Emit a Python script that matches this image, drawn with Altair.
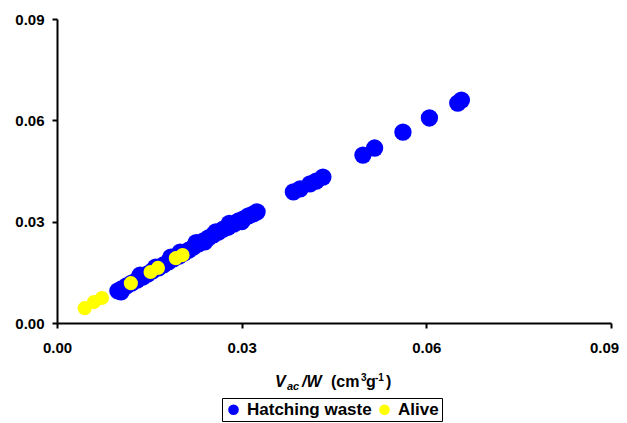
import altair as alt
import pandas as pd

# Hatching waste series
hw_x = [0.0099, 0.0104, 0.0105, 0.0113, 0.0121, 0.0130, 0.0139, 0.0147, 0.0155, 0.0160,
        0.0165, 0.0173, 0.0181, 0.0189, 0.0198, 0.0200, 0.0206, 0.0214, 0.0222, 0.0230,
        0.0238, 0.0240, 0.0246, 0.0254, 0.0262, 0.0270, 0.0278, 0.0280, 0.0287, 0.0295,
        0.0300, 0.0303, 0.0311, 0.0319, 0.0325, 0.0135, 0.0185, 0.0226, 0.0258,
        0.0384, 0.0395, 0.0411, 0.0421, 0.0432, 0.0497, 0.0516, 0.0562, 0.0605, 0.0651, 0.0657]
hw_y = [0.0095, 0.0092, 0.0101, 0.0110, 0.0118, 0.0127, 0.0136, 0.0145, 0.0154, 0.0165,
        0.0163, 0.0172, 0.0181, 0.0190, 0.0198, 0.0210, 0.0207, 0.0216, 0.0225, 0.0234,
        0.0243, 0.0240, 0.0252, 0.0261, 0.0269, 0.0278, 0.0284, 0.0295, 0.0293, 0.0302,
        0.0300, 0.0308, 0.0317, 0.0323, 0.0329, 0.0142, 0.0195, 0.0238, 0.0270,
        0.0388, 0.0397, 0.0412, 0.0420, 0.0432, 0.0497, 0.0518, 0.0565, 0.0607, 0.0651, 0.0660]

# Alive series
alive_x = [0.0045, 0.0060, 0.0073, 0.0120, 0.0152, 0.0164, 0.0193, 0.0204]
alive_y = [0.0044, 0.0062, 0.0074, 0.0118, 0.0151, 0.0163, 0.0192, 0.0201]

series_names = ["Hatching waste", "Alive"]
series_colors = ["#0000FF", "#FFFF00"]
ticks = [0.0, 0.03, 0.06, 0.09]

FONT = "Liberation Sans"

df_hw = pd.DataFrame({"x": hw_x, "y": hw_y, "series": series_names[0]})
df_al = pd.DataFrame({"x": alive_x, "y": alive_y, "series": series_names[1]})

xaxis = alt.Axis(values=ticks, format=".2f", title=None, grid=False, domainColor="black",
                 domainWidth=2, tickColor="black", tickWidth=2, tickSize=5,
                 labelFont=FONT, labelFontSize=15, labelFontWeight="bold", labelColor="black",
                 labelPadding=12, labelFlush=False, labelOverlap=False,
                 labelOffset={"condition": {"test": "datum.value >= 0.089", "value": -7},
                              "value": 0})
yaxis = alt.Axis(values=ticks, format=".2f", title=None, grid=False, domainColor="black",
                 domainWidth=2, tickColor="black", tickWidth=2, tickSize=5,
                 labelFont=FONT, labelFontSize=15, labelFontWeight="bold", labelColor="black",
                 labelPadding=8, labelFlush=False, labelOverlap=False)

xs = alt.Scale(domain=[0, 0.09], nice=False, zero=False)
ys = alt.Scale(domain=[0, 0.09], nice=False, zero=False)
cs = alt.Scale(domain=series_names, range=series_colors)

legend = alt.Legend(orient="none", legendX=165, legendY=379, direction="horizontal",
                    title=None, strokeColor="black", fillColor="white", padding=3,
                    symbolType="circle", symbolSize=113, symbolStrokeWidth=0,
                    symbolOpacity=1, labelFont=FONT, labelFontSize=17,
                    labelFontWeight="bold", labelColor="black", labelOffset=5,
                    columnPadding=4)


def layer_points(df, size):
    return alt.Chart(df).mark_point(filled=True, opacity=1, shape="circle", size=size,
                                    strokeWidth=0).encode(
        x=alt.X("x:Q", scale=xs, axis=xaxis),
        y=alt.Y("y:Q", scale=ys, axis=yaxis),
        color=alt.Color("series:N", scale=cs, legend=legend),
    )


def piece(text, x, y, size, italic):
    return alt.Chart(alt.Data(values=[{}])).mark_text(
        text=text, align="left", baseline="alphabetic", font=FONT, fontSize=size,
        fontWeight="bold", fontStyle="italic" if italic else "normal", color="black"
    ).encode(x=alt.value(x), y=alt.value(y))


title_layers = [
    piece("V", 218, 368, 16, True),
    piece("ac", 230, 371, 11, True),
    piece("/W", 245, 368, 16, True),
    piece("(cm", 274, 368, 16, False),
    piece("3", 304, 362, 10, False),
    piece("g", 309, 368, 16, False),
    piece("-1", 318, 362, 10, False),
    piece(")", 329, 368, 16, False),
]

chart = alt.layer(layer_points(df_hw, 300), layer_points(df_al, 200), *title_layers).properties(
    width=554, height=304,
    autosize=alt.AutoSizeParams(type="none"),
    padding={"left": 49, "top": 11, "right": 8, "bottom": 100},
    background="white",
).configure_view(stroke="transparent")

chart.save("out.html", embed_options={"renderer": "svg", "actions": False})
